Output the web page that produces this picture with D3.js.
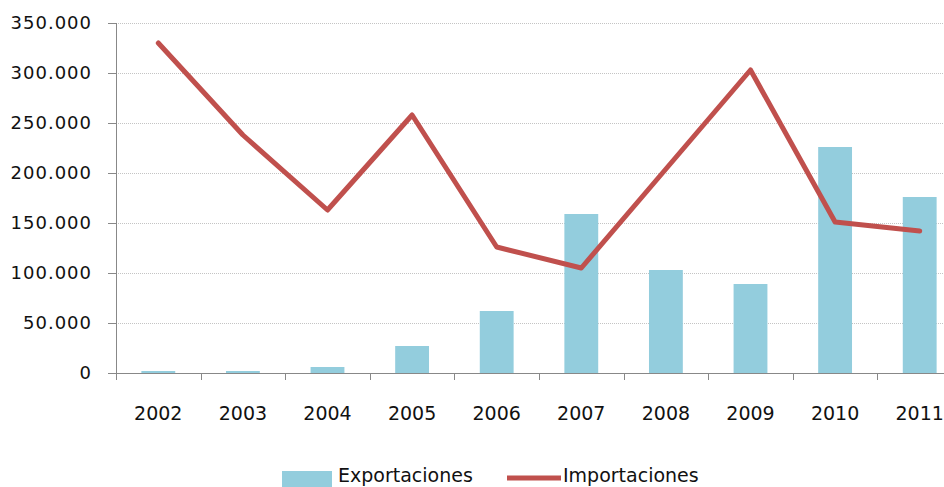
<!DOCTYPE html>
<html>
<head>
<meta charset="utf-8">
<script src="https://cdn.jsdelivr.net/npm/d3@7"></script>
<style>
  body { margin: 0; background: #fff; }
  svg { display: block; }
  .y_axis text { font-family: "DejaVu Sans", Verdana, sans-serif; font-size: 18px; letter-spacing: 1px; fill: #111; }
  .x_axis text { font-family: "DejaVu Sans", Verdana, sans-serif; font-size: 19px; fill: #111; }
  .legend text { font-family: "DejaVu Sans", sans-serif; font-size: 19px; fill: #111; }
</style>
</head>
<body>
<div id="chart"></div>
<script>
let years = ["2002", "2003", "2004", "2005", "2006", "2007", "2008", "2009", "2010", "2011"];
let exportaciones = [2000, 2000, 6000, 27000, 62000, 159000, 103000, 89000, 226000, 176000];
let importaciones = [330000, 238000, 163000, 258000, 126000, 105000, 204000, 303000, 151000, 142000];
let yTicks = [0, 50000, 100000, 150000, 200000, 250000, 300000, 350000];

let outerWidth = 944, outerHeight = 487;
let margin = { "top": 23, "left": 116 };
let height = 350;
let width = 846; // plot runs past the right edge of the picture

let svg = d3.select('#chart')
    .append('svg')
    .attr('width', outerWidth)
    .attr('height', outerHeight);

let es = d3.formatLocale({ decimal: ",", thousands: ".", grouping: [3], currency: ["", ""] });
let fmt = es.format(",d");

let xScale = d3.scaleBand()
    .domain(years)
    .range([0, width])
    .paddingInner(0.6)
    .paddingOuter(0.3);
let yScale = d3.scaleLinear()
    .domain([0, 350000])
    .range([height, 0]);

let g = svg.append('g')
    .attr('transform', 'translate(' + margin.left + ',' + margin.top + ')');

// gridlines
g.append('g')
    .selectAll('line')
    .data(yTicks.filter(function (d) { return d > 0; }))
    .enter()
    .append('line')
    .attr('x1', 0)
    .attr('x2', width)
    .attr('y1', function (d) { return Math.round(yScale(d)) + 0.5; })
    .attr('y2', function (d) { return Math.round(yScale(d)) + 0.5; })
    .attr('stroke', '#c4c4c4')
    .attr('stroke-dasharray', '1,1');

// bars
g.append('g')
    .selectAll('rect')
    .data(exportaciones)
    .enter()
    .append('rect')
    .attr('x', function (d, i) { return xScale(years[i]); })
    .attr('y', function (d) { return yScale(d); })
    .attr('width', xScale.bandwidth())
    .attr('height', function (d) { return height - yScale(d); })
    .attr('fill', '#93cddd');

// y axis
let yLabel = d3.axisLeft(yScale)
    .tickValues(yTicks)
    .tickSize(8)
    .tickPadding(16)
    .tickFormat(fmt);
let yAxis = g.append('g')
    .attr('class', 'y_axis')
    .call(yLabel);
yAxis.select('.domain').remove();
yAxis.selectAll('line').attr('stroke', '#888');
g.append('line')
    .attr('x1', 0.5).attr('x2', 0.5)
    .attr('y1', 0).attr('y2', height + 7)
    .attr('stroke', '#888');

// x axis with ticks between categories
let step = xScale.step();
let xAxis = g.append('g')
    .attr('class', 'x_axis')
    .attr('transform', 'translate(0,' + height + ')');
xAxis.append('line')
    .attr('x1', 0).attr('x2', width)
    .attr('y1', 0.5).attr('y2', 0.5)
    .attr('stroke', '#888');
xAxis.selectAll('line.tick')
    .data(d3.range(0, years.length + 1))
    .enter()
    .append('line')
    .attr('class', 'tick')
    .attr('x1', function (d) { return Math.round(d * step) + 0.5; })
    .attr('x2', function (d) { return Math.round(d * step) + 0.5; })
    .attr('y1', 0)
    .attr('y2', 7)
    .attr('stroke', '#888');
xAxis.selectAll('text')
    .data(years)
    .enter()
    .append('text')
    .attr('x', function (d) { return xScale(d) + xScale.bandwidth() / 2; })
    .attr('y', 47)
    .attr('text-anchor', 'middle')
    .text(function (d) { return d; });

// line
let line = d3.line()
    .x(function (d, i) { return xScale(years[i]) + xScale.bandwidth() / 2; })
    .y(function (d) { return yScale(d); });
g.append('path')
    .attr('d', line(importaciones))
    .attr('fill', 'none')
    .attr('stroke', '#c0504d')
    .attr('stroke-width', 5)
    .attr('stroke-linejoin', 'round')
    .attr('stroke-linecap', 'round');

// legend
let legend = svg.append('g').attr('class', 'legend');
legend.append('rect')
    .attr('x', 282).attr('y', 471)
    .attr('width', 50).attr('height', 16)
    .attr('fill', '#93cddd');
legend.append('text')
    .attr('x', 338).attr('y', 482)
    .text('Exportaciones');
legend.append('line')
    .attr('x1', 507).attr('x2', 561)
    .attr('y1', 478).attr('y2', 478)
    .attr('stroke', '#c0504d')
    .attr('stroke-width', 5);
legend.append('text')
    .attr('x', 563).attr('y', 482)
    .text('Importaciones');
</script>
</body>
</html>
